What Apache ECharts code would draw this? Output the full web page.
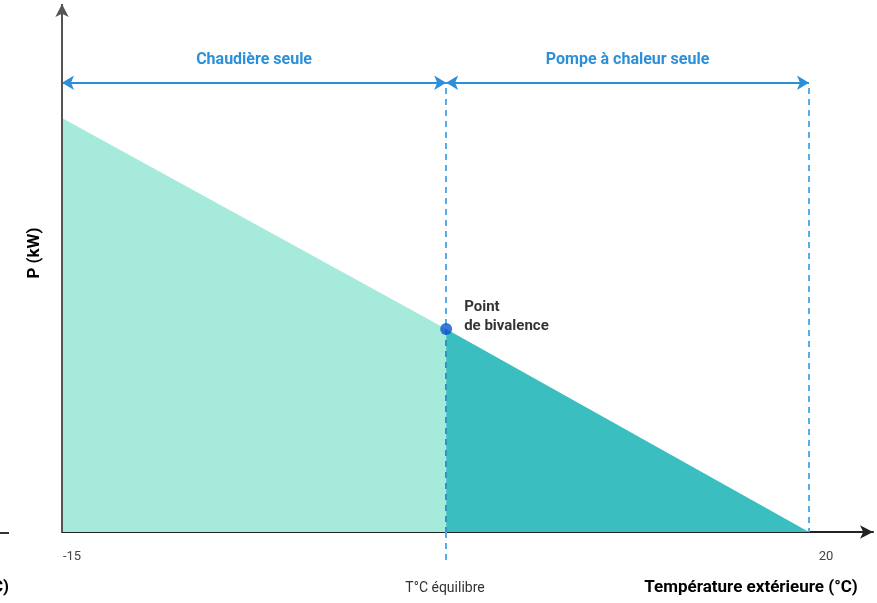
<!DOCTYPE html>
<html><head><meta charset="utf-8">
<script src="https://cdn.jsdelivr.net/npm/echarts@6/dist/echarts.min.js"></script>
<style>html,body{margin:0;padding:0;background:#fff}#c{width:877px;height:603px}</style>
</head><body><div id="c"></div>
<script>
const tempPoints = [-15, 3, 20];
const powerPoints = [10, 4.9, 0];
const xTickValues = [-15, 20];
const xTickLabels = ['-15', '20'];
const zoneLabels = ['Chaudière seule', 'Pompe à chaleur seule'];
const zoneBounds = [[-15, 3], [3, 20]];
const bivalence = [3, 4.9];
const arrowLevel = 10.85;
const dashTop = 10.72;
const dashBottom = [-0.8, 0];

const FONT = '"Liberation Sans Narrow", "Roboto", sans-serif';
const BLUE = '#2b90d9';
const DASH = '#55aee8';
const DASH_DARK = '#2f93c4';

const chart = echarts.init(document.getElementById('c'), null, {renderer: 'canvas'});

const zoneLines = zoneBounds.map((b, i) => [
  {coord: [b[0], arrowLevel], symbol: 'arrow', name: zoneLabels[i]},
  {coord: [b[1], arrowLevel], symbol: 'arrow'}
]);

const dash = (x, y1, y2, color) => [
  {coord: [x, y1], symbol: 'none', lineStyle: {color: color, width: 2, type: [6, 5]}, label: {show: false}},
  {coord: [x, y2], symbol: 'none'}
];

chart.setOption({
  animation: false,
  grid: {left: 62, right: 4, top: 2, bottom: 29.6, containLabel: false},
  xAxis: {
    type: 'value', min: -15, max: 23,
    axisLine: {onZero: true, symbol: ['none', 'arrow'], symbolSize: [10, 13], lineStyle: {color: '#222', width: 2}},
    axisTick: {show: false}, splitLine: {show: false},
    axisLabel: {
      customValues: xTickValues,
      margin: -23,
      fontFamily: FONT, fontSize: 13, color: '#444',
      formatter: v => {
        const i = xTickValues.indexOf(v);
        return i === 0 ? '{a|' + xTickLabels[i] + '}' : '{b|' + xTickLabels[i] + '}';
      },
      rich: {
        a: {fontFamily: FONT, fontSize: 13, color: '#444', padding: [0, 0, 0, 20]},
        b: {fontFamily: FONT, fontSize: 13, color: '#444', padding: [0, 0, 0, 34]}
      }
    }
  },
  yAxis: {
    type: 'value', min: -1, max: 12.8,
    axisLine: {show: false}, axisTick: {show: false}, splitLine: {show: false}, axisLabel: {show: false}
  },
  series: [
    {
      type: 'line', clip: false,
      data: [[tempPoints[0], powerPoints[0]], [tempPoints[1], powerPoints[1]]],
      symbol: 'none', lineStyle: {width: 0},
      areaStyle: {color: '#a6eadc', opacity: 1, origin: 'auto'},
      z: 1
    },
    {
      type: 'line', clip: false,
      data: [[tempPoints[1], powerPoints[1]], [tempPoints[2], powerPoints[2]]],
      symbol: 'none', lineStyle: {width: 0},
      areaStyle: {color: '#3bbebf', opacity: 1, origin: 'auto'},
      z: 1,
      markLine: {
        silent: true, animation: false,
        symbolSize: [11, 12],
        data: [
          ...zoneLines.map(l => [
            Object.assign({}, l[0], {
              lineStyle: {color: BLUE, width: 2, type: 'solid'},
              label: {show: true, position: 'insideMiddleTop', distance: 15, formatter: '{b}',
                      fontFamily: FONT, fontSize: 16, fontWeight: 'bold', color: BLUE}
            }), l[1]
          ]),
          dash(tempPoints[1], dashTop, bivalence[1], DASH),
          dash(tempPoints[1], bivalence[1], 0, DASH_DARK),
          dash(tempPoints[1], 0, dashBottom[0], DASH),
          dash(tempPoints[2], dashTop, dashBottom[1], DASH),
          [
            {coord: [tempPoints[0], 0], symbol: 'none', lineStyle: {color: '#555', width: 2, type: 'solid'}, label: {show: false}},
            {coord: [tempPoints[0], 12.75], symbol: 'arrow', symbolSize: [10, 13]}
          ]
        ]
      }
    },
    {
      type: 'scatter', data: [bivalence], symbolSize: 12,
      itemStyle: {color: '#0b55d0'}, z: 5,
      label: {show: true, position: 'right', distance: 12, offset: [0, -12], align: 'left',
              formatter: 'Point\nde bivalence', fontFamily: FONT, fontSize: 15, fontWeight: 'bold',
              color: '#000', lineHeight: 19}
    }
  ],
  graphic: [
    {type: 'text', x: 35, y: 253, rotation: Math.PI / 2,
     style: {x: 0, y: 0, text: 'P (kW)', font: 'bold 17px ' + FONT, fill: '#000', textAlign: 'center', textVerticalAlign: 'middle'}},
    {type: 'text', style: {x: 445, y: 588, text: 'T°C équilibre', font: '14px ' + FONT, fill: '#333', textAlign: 'center', textVerticalAlign: 'middle'}},
    {type: 'text', style: {x: 751, y: 588, text: 'Température extérieure (°C)', font: 'bold 17px ' + FONT, fill: '#000', textAlign: 'center', textVerticalAlign: 'middle'}},
    {type: 'text', style: {x: 9, y: 588, text: '(°C)', font: 'bold 17px ' + FONT, fill: '#000', textAlign: 'right', textVerticalAlign: 'middle'}},
    {type: 'line', shape: {x1: 0, y1: 533, x2: 9, y2: 533}, style: {stroke: '#333', lineWidth: 2}}
  ]
});
</script></body></html>
